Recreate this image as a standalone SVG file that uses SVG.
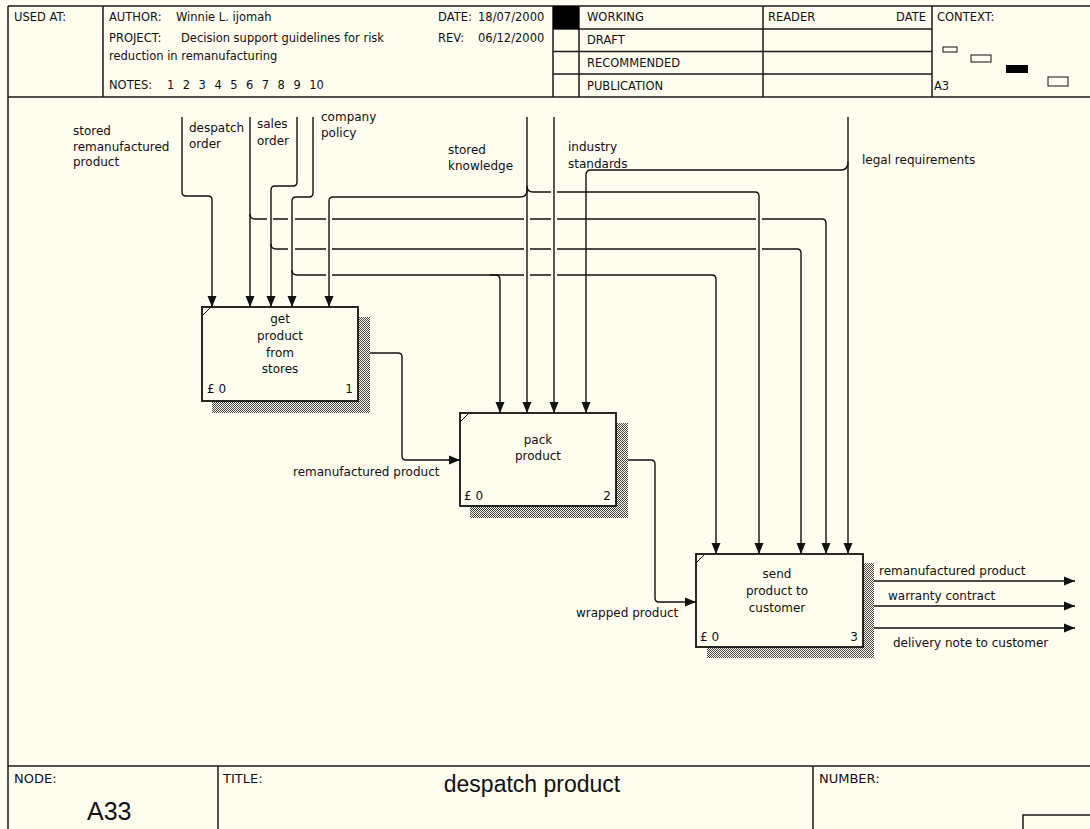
<svg xmlns="http://www.w3.org/2000/svg" width="1090" height="829" viewBox="0 0 1090 829">
  <defs>
    <style>
      .frame{stroke:#1a1a1a;stroke-width:1.5;fill:none}
      .hd{font-family:"DejaVu Sans",sans-serif;font-size:11.5px;fill:#111}
      .ft{font-family:"DejaVu Sans",sans-serif;font-size:13px;fill:#111}
      .big{font-family:"Liberation Sans",Arial,sans-serif;fill:#111}
      .lbl{font-family:"DejaVu Sans",sans-serif;font-size:12px;fill:#111}
      .mid{text-anchor:middle}
      .end{text-anchor:end}
      .box{fill:#fffcf0;stroke:#111;stroke-width:1.8}
      .shadow{fill:url(#hatch);stroke:none}
      .tick{stroke:#111;stroke-width:1}
      .conn{fill:none;stroke:#111;stroke-width:1.4}
      .arr{marker-end:url(#arrow)}
    </style>
    <pattern id="hatch" width="2" height="2" patternUnits="userSpaceOnUse">
      <rect width="2" height="2" fill="#fffcf0"/>
      <rect width="1" height="1" fill="#444"/>
      <rect x="1" y="1" width="1" height="1" fill="#444"/>
    </pattern>
    <marker id="arrow" markerUnits="userSpaceOnUse" markerWidth="11" markerHeight="10" refX="11" refY="5" orient="auto">
      <path d="M0,0.5 L11,5 L0,9.5 Z" fill="#111"/>
    </marker>
  </defs>

  <rect width="1090" height="829" fill="#fffcf0"/>

  <!-- header form -->
  <g id="header">
    <path class="frame" d="M8,6 H1090 M8,97 H1090 M8,6 V829 M103,6 V97 M553,6 V97 M579,6 V97 M763,6 V97 M932,6 V97 M553,29 H932 M553,51.5 H932 M553,74 H932"/>
    <rect x="553" y="6" width="26" height="23" fill="#000"/>
    <text class="hd" x="14" y="21">USED AT:</text>
    <text class="hd" x="109" y="21">AUTHOR:</text>
    <text class="hd" x="176" y="21">Winnie L. ijomah</text>
    <text class="hd" x="109" y="42">PROJECT:</text>
    <text class="hd" x="181" y="42">Decision support guidelines for risk</text>
    <text class="hd" x="109" y="60">reduction in remanufacturing</text>
    <text class="hd" x="109" y="89">NOTES:</text>
    <text class="hd" x="167" y="89">1</text>
    <text class="hd" x="182.8" y="89">2</text>
    <text class="hd" x="198.6" y="89">3</text>
    <text class="hd" x="214.4" y="89">4</text>
    <text class="hd" x="230.2" y="89">5</text>
    <text class="hd" x="246" y="89">6</text>
    <text class="hd" x="261.8" y="89">7</text>
    <text class="hd" x="277.6" y="89">8</text>
    <text class="hd" x="293.4" y="89">9</text>
    <text class="hd" x="309.2" y="89">10</text>
    <text class="hd" x="438" y="21">DATE:</text>
    <text class="hd" x="478" y="21">18/07/2000</text>
    <text class="hd" x="438" y="42">REV:</text>
    <text class="hd" x="478" y="42">06/12/2000</text>
    <text class="hd" x="587" y="21">WORKING</text>
    <text class="hd" x="587" y="44">DRAFT</text>
    <text class="hd" x="587" y="67">RECOMMENDED</text>
    <text class="hd" x="587" y="90">PUBLICATION</text>
    <text class="hd" x="768" y="21">READER</text>
    <text class="hd end" x="926" y="21">DATE</text>
    <text class="hd" x="937" y="21">CONTEXT:</text>
    <text class="hd" x="934" y="90">A3</text>
    <rect x="943" y="47" width="14" height="5" fill="none" stroke="#111" stroke-width="1"/>
    <rect x="971" y="55" width="20" height="7" fill="none" stroke="#111" stroke-width="1"/>
    <rect x="1006" y="65" width="22" height="8" fill="#000"/>
    <rect x="1048" y="77" width="20" height="9" fill="none" stroke="#111" stroke-width="1"/>
  </g>

  <!-- footer form -->
  <g id="footer">
    <path class="frame" d="M8,766 H1090 M218,766 V829 M813,766 V829 M1023,829 V815 H1090"/>
    <text class="ft" x="14" y="783">NODE:</text>
    <text class="big" x="87" y="820" font-size="25">A33</text>
    <text class="ft" x="223" y="783">TITLE:</text>
    <text class="big mid" x="532" y="792" font-size="23">despatch product</text>
    <text class="ft" x="819" y="783">NUMBER:</text>
  </g>

  <!-- connectors -->
  <g id="connectors">
    <!-- stored remanufactured product -->
    <path class="conn arr" d="M182,117 V192 Q182,196 186,196 H208 Q212,196 212,200 V307"/>
    <!-- despatch order -->
    <path class="conn arr" d="M250,117 V307"/>
    <path class="conn arr" d="M250,214 Q250,219 255,219 H267 M273,219 H288 M295,219 H326 M332,219 H524 M530,219 H551 M557,219 H756 M762,219 H822 Q826,219 826,223 V554"/>
    <!-- sales order -->
    <path class="conn arr" d="M297,117 V182 Q297,186 293,186 H275 Q271,186 271,190 V307"/>
    <path class="conn arr" d="M271,244 Q271,249 276,249 H288 M295,249 H326 M332,249 H524 M530,249 H551 M557,249 H756 M762,249 H797 Q801,249 801,253 V554"/>
    <!-- company policy -->
    <path class="conn arr" d="M313,117 V193 Q313,197 309,197 H296 Q292,197 292,201 V307"/>
    <path class="conn arr" d="M292,270 Q292,275 297,275 H326 M332,275 H524 M530,275 H551 M557,275 H712 Q716,275 716,279 V554"/>
    <path class="conn arr" d="M490,275 H495 Q500,275 500,280 V413"/>
    <!-- stored knowledge -->
    <path class="conn arr" d="M527,117 V413"/>
    <path class="conn arr" d="M527,190 Q527,197 520,197 H333 Q329,197 329,201 V307"/>
    <path class="conn arr" d="M527,186 Q527,192 533,192 H551 M557,192 H755 Q759,192 759,196 V554"/>
    <!-- industry standards -->
    <path class="conn arr" d="M554,117 V413"/>
    <!-- legal requirements -->
    <path class="conn arr" d="M848,117 V554"/>
    <path class="conn arr" d="M848,162 Q848,170 841,170 H591 Q586,170 586,175 V413"/>
    <!-- box outputs -->
    <path class="conn arr" d="M358,353 H398 Q402,353 402,357 V456 Q402,460 406,460 H460"/>
    <path class="conn arr" d="M616,460 H651 Q655,460 655,464 V598 Q655,602 659,602 H696"/>
    <path class="conn arr" d="M863,581 H1075"/>
    <path class="conn arr" d="M863,606 H1075"/>
    <path class="conn arr" d="M863,628 H1075"/>

    <!-- arrow labels -->
    <text class="lbl" x="73" y="135">stored</text>
    <text class="lbl" x="73" y="151">remanufactured</text>
    <text class="lbl" x="73" y="166">product</text>
    <text class="lbl" x="189" y="132">despatch</text>
    <text class="lbl" x="189" y="148">order</text>
    <text class="lbl" x="257" y="128">sales</text>
    <text class="lbl" x="257" y="145">order</text>
    <text class="lbl" x="321" y="121">company</text>
    <text class="lbl" x="321" y="137">policy</text>
    <text class="lbl" x="448" y="154">stored</text>
    <text class="lbl" x="448" y="170">knowledge</text>
    <text class="lbl" x="568" y="151">industry</text>
    <text class="lbl" x="568" y="168">standards</text>
    <text class="lbl" x="862" y="164">legal requirements</text>
    <text class="lbl" x="293" y="476">remanufactured product</text>
    <text class="lbl" x="576" y="617">wrapped product</text>
    <text class="lbl" x="879" y="575">remanufactured product</text>
    <text class="lbl" x="888" y="600">warranty contract</text>
    <text class="lbl" x="893" y="647">delivery note to customer</text>
  </g>

  <!-- activity 1 -->
  <g id="node-1">
    <path class="shadow" d="M358,317 H370 V413 H212 V401 H358 Z"/>
    <rect class="box" x="202" y="307" width="156" height="94"/>
    <line class="tick" x1="202" y1="316" x2="211" y2="307"/>
    <text class="lbl mid" x="280" y="323">get</text>
    <text class="lbl mid" x="280" y="340">product</text>
    <text class="lbl mid" x="280" y="357">from</text>
    <text class="lbl mid" x="280" y="373">stores</text>
    <text class="lbl" x="207" y="393">£ 0</text>
    <text class="lbl end" x="353" y="393">1</text>
  </g>

  <!-- activity 2 -->
  <g id="node-2">
    <path class="shadow" d="M616,423 H628 V518 H470 V506 H616 Z"/>
    <rect class="box" x="460" y="413" width="156" height="93"/>
    <line class="tick" x1="460" y1="422" x2="469" y2="413"/>
    <text class="lbl mid" x="538" y="444">pack</text>
    <text class="lbl mid" x="538" y="460">product</text>
    <text class="lbl" x="464" y="500">£ 0</text>
    <text class="lbl end" x="611" y="500">2</text>
  </g>

  <!-- activity 3 -->
  <g id="node-3">
    <path class="shadow" d="M863,563 H874 V658 H707 V647 H863 Z"/>
    <rect class="box" x="696" y="554" width="167" height="93"/>
    <line class="tick" x1="696" y1="563" x2="705" y2="554"/>
    <text class="lbl mid" x="777" y="578">send</text>
    <text class="lbl mid" x="777" y="595">product to</text>
    <text class="lbl mid" x="777" y="612">customer</text>
    <text class="lbl" x="700" y="641">£ 0</text>
    <text class="lbl end" x="858" y="641">3</text>
  </g>
</svg>
